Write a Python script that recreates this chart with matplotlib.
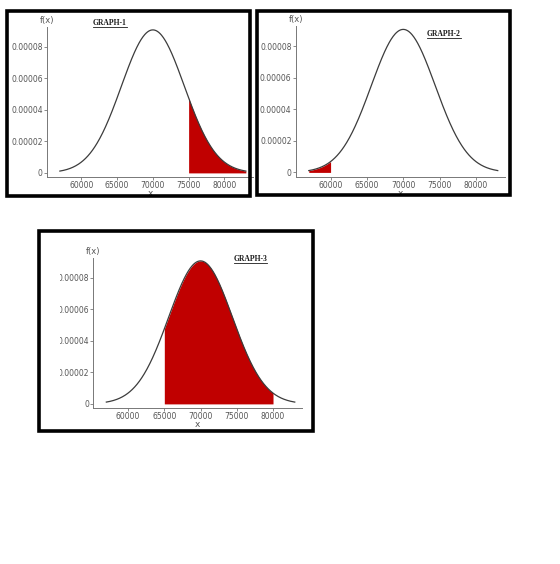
import numpy as np
import matplotlib
matplotlib.use("Agg")
import matplotlib.pyplot as plt
from matplotlib.patches import Rectangle
from matplotlib.lines import Line2D
from matplotlib.transforms import Bbox

# normal curve (same in all three panels)
MU = 70000
SIGMA = 4400
X_START, X_END = 57000, 83000

TITLES = ["GRAPH-1", "GRAPH-2", "GRAPH-3"]
SHADE_FROM = [75000, 57000, 65000]
SHADE_TO = [83000, 60000, 80000]

X_TICKS = [60000, 65000, 70000, 75000, 80000]
Y_TICKS = [0, 0.00002, 0.00004, 0.00006, 0.00008]
Y_TICK_LABELS = ["0", "0.00002", "0.00004", "0.00006", "0.00008"]

# layout, in pixels from the top-left corner of the image
W, H = 560, 564
BORDERS = [(6.5, 10.5, 250, 195.5), (257, 10.5, 509.5, 195), (38.5, 231, 313, 430.5)]
AXES_BOX = [(47, 27, 253, 177), (295.7, 26.5, 505, 176.5), (93.3, 258, 302, 408)]
TITLE_POS = [(110, 23), (444, 34), (250.5, 259)]
YLABEL_CLIP = [None, None, 59.5]

RED = "#c00000"
GREY = "#555555"


def fx(px):
    return px / W


def fy(py):
    return 1 - py / H


def pdf(x):
    return np.exp(-0.5 * ((x - MU) / SIGMA) ** 2) / (SIGMA * np.sqrt(2 * np.pi))


fig = plt.figure(figsize=(W / 100, H / 100), dpi=100, facecolor="white")

xs = np.linspace(X_START, X_END, 400)
titles = []
for i in range(3):
    l, t, r, b = AXES_BOX[i]
    ax = fig.add_axes([fx(l), fy(b), (r - l) / W, (b - t) / H])
    ax.set_facecolor("none")

    lo, hi = SHADE_FROM[i], SHADE_TO[i]
    xf = np.linspace(lo, hi, 200)
    ax.fill_between(xf, 0, pdf(xf), color=RED, lw=0, zorder=2)
    ax.plot(xs, pdf(xs), color="#3c3c3c", lw=0.9, zorder=3)

    ax.set_xlim(55200, 84000)
    ax.set_ylim(-2.6e-6, 9.25e-5)
    ax.set_xticks(X_TICKS)
    ax.set_xticklabels([str(v) for v in X_TICKS])
    ax.set_yticks(Y_TICKS)
    ax.set_yticklabels(Y_TICK_LABELS)
    ax.tick_params(length=2.2, width=0.6, color="#777777", pad=0.8,
                   labelsize=5.5, labelcolor=GREY)
    for side in ("top", "right"):
        ax.spines[side].set_visible(False)
    for side in ("left", "bottom"):
        ax.spines[side].set_color("#777777")
        ax.spines[side].set_linewidth(0.7)
    ax.set_xlabel("x", fontsize=6.5, color=GREY, labelpad=-0.6)
    ax.annotate("f(x)", xy=(0, 1), xycoords="axes fraction", xytext=(0, 1.5),
                textcoords="offset points", ha="center", va="bottom",
                fontsize=6, color=GREY)

    if YLABEL_CLIP[i] is not None:
        clip = Bbox([[YLABEL_CLIP[i], 0], [W, H]])
        for lbl in ax.get_yticklabels():
            lbl.set_clip_box(clip)
            lbl.set_clip_on(True)

    tx, ty = TITLE_POS[i]
    titles.append(fig.text(fx(tx), fy(ty), TITLES[i], ha="center", va="center",
                           fontsize=5.5, fontweight="bold", color="#1a1a1a",
                           family="Liberation Serif"))

    bl, bt, br, bb = BORDERS[i]
    fig.add_artist(Rectangle((fx(bl), fy(bb)), (br - bl) / W, (bb - bt) / H,
                             transform=fig.transFigure, fill=False,
                             ec="black", lw=2.6, zorder=10))

# underline the titles
fig.canvas.draw()
renderer = fig.canvas.get_renderer()
for txt in titles:
    bb = txt.get_window_extent(renderer)
    y = (bb.y0 + 0.3) / H
    fig.add_artist(Line2D([bb.x0 / W, bb.x1 / W], [y, y], transform=fig.transFigure,
                          color="#1a1a1a", lw=0.6))

fig.savefig("out.png", dpi=100, facecolor="white")
